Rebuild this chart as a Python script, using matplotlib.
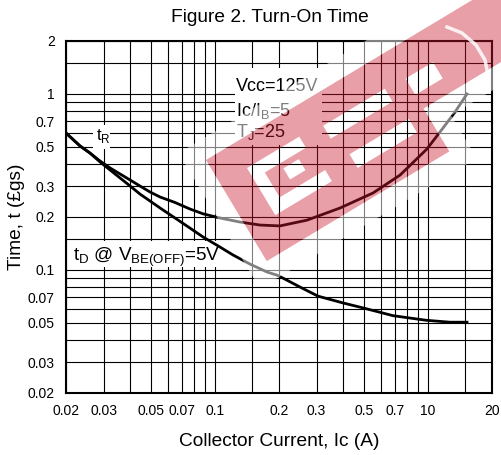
import matplotlib
matplotlib.use("Agg")
import matplotlib.pyplot as plt
from matplotlib.path import Path
from matplotlib.patches import PathPatch, Rectangle
from matplotlib.lines import Line2D
from matplotlib.ticker import FixedLocator, FixedFormatter, NullFormatter

plt.rcParams['font.family'] = ['Liberation Sans', 'DejaVu Sans']

# ---------------- data ----------------
ic_tr = [0.02, 0.0233, 0.0259, 0.0289, 0.0322, 0.0359, 0.040, 0.0445, 0.0496, 0.0553,
         0.065, 0.0764, 0.088, 0.1057, 0.131, 0.163, 0.202, 0.271, 0.387, 0.553,
         0.74, 0.99, 1.178, 1.341, 1.526]
t_r = [0.6, 0.506, 0.462, 0.416, 0.380, 0.351, 0.3245, 0.300, 0.2774, 0.2598,
       0.2418, 0.222, 0.2085, 0.1974, 0.1873, 0.180, 0.178, 0.192, 0.225, 0.274,
       0.346, 0.487, 0.641, 0.790, 1.0]

ic_td = [0.02, 0.0233, 0.0259, 0.0289, 0.0322, 0.0359, 0.040, 0.0445, 0.0496, 0.0553,
         0.065, 0.0764, 0.088, 0.1057, 0.1216, 0.1462, 0.1757, 0.198, 0.251, 0.305,
         0.399, 0.501, 0.686, 0.98, 1.27, 1.526]
t_d = [0.6, 0.506, 0.462, 0.411, 0.370, 0.333, 0.300, 0.270, 0.2466, 0.225,
       0.1974, 0.173, 0.154, 0.135, 0.1217, 0.108, 0.0974, 0.093, 0.080, 0.071,
       0.065, 0.0607, 0.055, 0.0518, 0.0505, 0.0505]

x_ticks = [0.02, 0.03, 0.05, 0.07, 0.1, 0.2, 0.3, 0.5, 0.7, 1, 2]
x_labels = ["0.02", "0.03", "0.05", "0.07", "0.1", "0.2", "0.3", "0.5", "0.7", "10", "20"]
x_minor = [0.04, 0.06, 0.08, 0.09, 0.15, 0.4, 0.6, 0.8, 0.9, 1.5]
y_ticks = [0.02, 0.03, 0.05, 0.07, 0.1, 0.2, 0.3, 0.5, 0.7, 1, 2]
y_labels = ["0.02", "0.03", "0.05", "0.07", "0.1", "0.2", "0.3", "0.5", "0.7", "1", "2"]
y_minor = [0.04, 0.06, 0.08, 0.09, 0.15, 0.4, 0.6, 0.8, 0.9, 1.5]

title = "Figure 2. Turn-On Time"
xlabel = "Collector Current, Ic (A)"
ylabel = "Time, t (£gs)"
cond_lines = ["Vcc=125V", r"Ic/I$_\mathregular{B}$=5", r"T$_\mathregular{J}$=25"]
tr_label = r"t$_\mathregular{R}$"
td_label = r"t$_\mathregular{D}$ @ V$_\mathregular{BE(OFF)}$=5V"

# ---------------- figure ----------------
W, H = 501, 455
fig = plt.figure(figsize=(W / 100, H / 100), dpi=100)
ax = fig.add_axes([66 / W, 1 - 393 / H, 426 / W, 352 / H])
ax.set_xscale('log')
ax.set_yscale('log')
ax.set_xlim(0.02, 2)
ax.set_ylim(0.02, 2)

ax.xaxis.set_major_locator(FixedLocator(x_ticks))
ax.xaxis.set_major_formatter(FixedFormatter(x_labels))
ax.xaxis.set_minor_locator(FixedLocator(x_minor))
ax.xaxis.set_minor_formatter(NullFormatter())
ax.yaxis.set_major_locator(FixedLocator(y_ticks))
ax.yaxis.set_major_formatter(FixedFormatter(y_labels))
ax.yaxis.set_minor_locator(FixedLocator(y_minor))
ax.yaxis.set_minor_formatter(NullFormatter())
ax.tick_params(which='both', length=0)
ax.tick_params(axis='x', pad=8, labelsize=10)
ax.tick_params(axis='y', pad=8, labelsize=10)
ax.set_axisbelow(True)
ax.grid(which='both', color='black', lw=0.8)
for sp in ax.spines.values():
    sp.set_linewidth(1.5)
    sp.set_color('black')

ax.plot(ic_tr, t_r, color='black', lw=2.0, zorder=3)
ax.plot(ic_td, t_d, color='black', lw=2.0, zorder=3)

# white label boxes
def box(x0, x1, y0, y1):
    ax.add_patch(Rectangle((x0, y0), x1 - x0, y1 - y0, fc='white', ec='none', zorder=1.8))

box(0.1244, 0.318, 0.51, 1.40)
box(0.0267, 0.0322, 0.49, 0.665)
box(0.0209, 0.1116, 0.104, 0.146)

ys = [1.096, 0.80, 0.608]
for txt, yv in zip(cond_lines, ys):
    ax.text(0.1256, yv, txt, fontsize=13, ha='left', va='center', zorder=3.5)
ax.text(0.0277, 0.578, tr_label, fontsize=12, ha='left', va='center', zorder=3.5)
ax.text(0.0216, 0.1186, td_label, fontsize=13.6, ha='left', va='center', zorder=3.5)

ax.set_xlabel(xlabel, fontsize=13.8, labelpad=11)
ax.set_ylabel(ylabel, fontsize=13.8, labelpad=2)
fig.text(270 / W, 1 - 18 / H, title, fontsize=13.8, ha='center', va='center')

# ---------------- watermark ----------------
def wm(t, s):
    X = 206 + 0.857 * t + 0.515 * s
    Y = 160 - 0.515 * t + 0.857 * s
    return (X / W, 1 - Y / H)

def outline(d):
    return [(-d, -d), (360 + d, -d), (360 + d, 68 + d), (213 + d, 68 + d),
            (213 + d, 118 + d), (-d, 118 + d)]

holes = [(31, 92, 28, 41), (31, 44, 41, 70), (31, 97, 70, 83), (62, 80, 47, 60),
         (118, 190, 31, 46), (126, 195, 69, 85), (213, 245, 33, 52)]

def poly(pts):
    v = [wm(*p) for p in pts] + [wm(*pts[0])]
    c = [Path.MOVETO] + [Path.LINETO] * (len(pts) - 1) + [Path.CLOSEPOLY]
    return v, c

verts, codes = poly(outline(0))
for t0, t1, s0, s1 in holes:
    v, c = poly([(t0, s1), (t1, s1), (t1, s0), (t0, s0)])
    verts += v
    codes += c
band_path = Path(verts, codes)

gv, gc = poly(outline(10))
glow = PathPatch(Path(gv, gc), fc='none', ec='white', lw=14.4, alpha=0.5,
                 joinstyle='round', transform=fig.transFigure, zorder=4.8)
band = PathPatch(band_path, fc=(0.80, 0.10, 0.18), ec='none', alpha=0.42,
                 transform=fig.transFigure, zorder=5)
fig.add_artist(glow)
fig.add_artist(band)

arc_px = [(447, 27), (462, 33), (476, 45), (485, 60), (488, 75), (487, 86)]
fig.add_artist(Line2D([p[0] / W for p in arc_px], [1 - p[1] / H for p in arc_px],
                      color='white', lw=2.5, alpha=0.85, transform=fig.transFigure, zorder=6))

fig.savefig('out.png', dpi=100)
